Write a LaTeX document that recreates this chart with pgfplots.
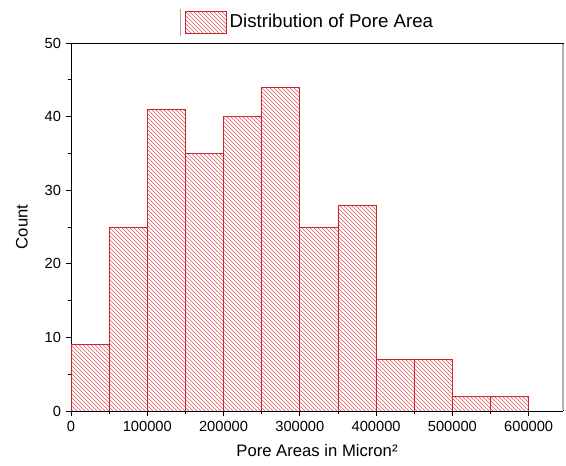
\documentclass[border=0pt]{standalone}
\usepackage{fontspec}
\setmainfont{Liberation Sans}
\usepackage{pgfplots}
\pgfplotsset{compat=1.18}
\usetikzlibrary{patterns}
\definecolor{barred}{RGB}{205,35,45}
\begin{document}
\begin{tikzpicture}
\path[use as bounding box] (-53.25pt,-41.25pt) rectangle (371.25pt,308.25pt);
\begin{axis}[
  at={(0,0)}, anchor=south west,
  scale only axis, width=369pt, height=276pt,
  xmin=0, xmax=645000, ymin=0, ymax=50,
  xtick={0,100000,...,600000}, ytick={0,10,...,50},
  minor x tick num=1, minor y tick num=1,
  scaled x ticks=false,
  xticklabel style={/pgf/number format/fixed,/pgf/number format/1000 sep={}},
  /pgf/number format/assume math mode=true,
  tick align=outside, xtick pos=bottom, ytick pos=left,
  major tick length=4pt, minor tick length=2.5pt,
  tick style={black, line width=0.6pt},
  axis line style={line width=0.7pt},
  separate axis lines,
  every outer x axis line/.append style={black},
  every outer y axis line/.append style={black},
  tick label style={font=\fontsize{11}{13}\selectfont},
  label style={font=\fontsize{12.5}{14}\selectfont},
  xlabel={Pore Areas in Micron²}, ylabel={Count},
  xlabel style={at={(axis description cs:0.5,-0.1087)}, anchor=center},
  ylabel style={at={(axis description cs:-0.0996,0.5)}, anchor=center},
  legend style={draw=none, fill=none, at={(axis description cs:0.2317,1.057)}, anchor=west,
    font=\fontsize{14}{16}\selectfont, inner sep=0pt},
]
\addplot[ybar interval, draw=barred, line width=0.6pt, pattern=north west lines, pattern color=barred!75,
  legend image code/.code={\draw[draw=barred, line width=0.6pt, pattern=north west lines, pattern color=barred!75] (0pt,-8.25pt) rectangle (30.75pt,8.25pt);}]
coordinates {(0,9)(50000,25)(100000,41)(150000,35)(200000,40)(250000,44)(300000,25)(350000,28)(400000,7)(450000,7)(500000,2)(550000,2)(600000,2)};
\addlegendentry{Distribution of Pore Area}
\end{axis}
\draw[gray!70, line width=0.6pt] (81.75pt,281.25pt) -- (81.75pt,301.5pt);
\draw[gray!60, line width=0.8pt] (369pt,0.4pt) -- (369pt,275.6pt);
\end{tikzpicture}
\end{document}
